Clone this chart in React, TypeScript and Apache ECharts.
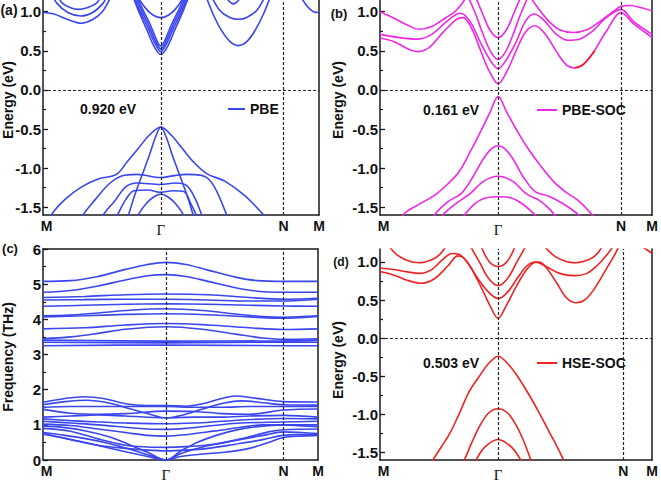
import React, { useEffect, useRef } from "react";
import * as echarts from "echarts";

// k-path positions (percent of path length) for M, Γ, N, M in each panel
const kLabels = ["M", "Γ", "N", "M"];
const kPosA = [0, 42.7, 87.2, 100];
const kPosB = [0, 43.4, 88.6, 100];
const kPosC = [0, 44.7, 87.5, 100];
const kPosD = [0, 43.4, 89.4, 100];

const energyTicks = [-1.5, -1.0, -0.5, 0.0, 0.5, 1.0];
const energyMinor = [-1.25, -0.75, -0.25, 0.25, 0.75];
const freqTicks = [0, 1, 2, 3, 4, 5, 6];
const freqMinor = [0.5, 1.5, 2.5, 3.5, 4.5, 5.5];

const panelLetters = ["(a)", "(b)", "(c)", "(d)"];
const gapLabels = ["0.920 eV", "0.161 eV", "0.503 eV"];
const legendNames = ["PBE", "PBE-SOC", "HSE-SOC"];

// Panel (a) PBE bands: [k %, E (eV)]
const bandsA: number[][][] = [
  [[0, 0.99], [4, 0.97], [9, 0.9], [13.9, 0.853], [18, 0.9], [21.5, 1.0], [24, 1.15], [25, 1.22]],
  [[3.5, 1.22], [5, 1.11], [9, 0.99], [13.7, 0.945], [18, 0.99], [21.8, 1.11], [23, 1.2]],
  [[5.5, 1.2], [7, 1.11], [10, 1.05], [12.7, 1.03], [16, 1.05], [19.4, 1.11], [21, 1.2]],
  [[32, 1.25], [34.5, 1.02], [37.5, 0.78], [40.2, 0.56], [42.7, 0.454], [45.2, 0.56], [47.9, 0.78], [50.9, 1.02], [53.4, 1.25]],
  [[32.5, 1.25], [35, 1.02], [38, 0.8], [40.5, 0.6], [42.7, 0.49], [44.9, 0.6], [47.4, 0.8], [50.4, 1.02], [52.9, 1.25]],
  [[33, 1.25], [35.5, 1.03], [38.4, 0.82], [40.7, 0.63], [42.7, 0.525], [44.7, 0.63], [47, 0.82], [49.9, 1.03], [52.4, 1.25]],
  [[33.5, 1.25], [36, 1.04], [38.8, 0.84], [40.9, 0.66], [42.7, 0.56], [44.5, 0.66], [46.6, 0.84], [49.4, 1.04], [51.9, 1.25]],
  [[34.5, 1.18], [37.5, 1.03], [40, 0.955], [42.7, 0.924], [45.4, 0.955], [47.9, 1.03], [50.9, 1.18]],
  [[58.5, 1.25], [61.5, 0.98], [64.5, 0.77], [67.7, 0.62], [70.8, 0.567], [73.9, 0.62], [77, 0.77], [80, 0.98], [83, 1.25]],
  [[61, 1.2], [64, 1.02], [67.5, 0.93], [70.8, 0.903], [74, 0.93], [77.5, 1.02], [80.5, 1.2]],
  [[66, 1.2], [69, 1.1], [72, 1.2]],
  [[92.5, 1.25], [95.5, 1.08], [98, 1.0], [100, 0.99]],
  [[1, -1.8], [3, -1.6], [8, -1.4], [14, -1.24], [20, -1.14], [26.6, -1.08], [30.5, -0.92], [34.5, -0.75], [38.5, -0.58], [42.7, -0.475], [46.5, -0.58], [50.5, -0.75], [54.5, -0.92], [59.3, -1.07], [66, -1.17], [73, -1.35], [80, -1.6], [82, -1.7]],
  [[29, -1.85], [31, -1.6], [33.5, -1.32], [36, -1.08], [38.5, -0.84], [40.8, -0.6], [42.7, -0.475], [44.6, -0.6], [46.9, -0.84], [49.4, -1.08], [51.9, -1.32], [54.4, -1.6], [56, -1.8]],
  [[12, -1.8], [14.5, -1.6], [19, -1.4], [24, -1.2], [28.5, -1.1], [34, -1.08], [42.7, -1.12], [47, -1.1], [52, -1.08], [57, -1.09], [60, -1.14], [63, -1.3], [66.6, -1.6], [68, -1.7]],
  [[20, -1.75], [21.8, -1.6], [26, -1.42], [30, -1.24], [34, -1.19], [42.7, -1.21], [48, -1.19], [52, -1.22], [55, -1.38], [57.5, -1.6], [59, -1.75]],
  [[25, -1.75], [27, -1.6], [30, -1.4], [33, -1.29], [38, -1.28], [42.7, -1.31], [47, -1.29], [51, -1.3], [53.5, -1.45], [55.5, -1.6], [57, -1.75]],
  [[33, -1.75], [34.5, -1.6], [37.5, -1.45], [40.5, -1.36], [42.7, -1.335], [44.9, -1.36], [47.9, -1.45], [50.9, -1.6], [52.4, -1.75]],
];

// Panel (b) PBE-SOC bands
const bandsB: number[][][] = [
  [[0, 0.71], [7, 0.67], [14, 0.65], [19, 0.71], [24, 0.86], [29.5, 0.98], [33, 0.88], [37, 0.6], [40.5, 0.38], [43.4, 0.27], [46.3, 0.38], [49.8, 0.6], [53.5, 0.88], [56.5, 0.97], [60, 0.9], [64.5, 0.72], [69, 0.635], [73, 0.645], [78, 0.75], [83, 0.92], [88.6, 1.03], [93, 0.88], [100, 0.71]],
  [[0, 1.0], [5, 0.92], [10, 0.83], [14.5, 0.775], [19, 0.81], [24, 0.92], [27.5, 1.0], [30, 1.1], [32, 1.2]],
  [[0, 0.665], [5, 0.62], [10, 0.53], [14, 0.49], [18, 0.54], [23, 0.73], [28, 0.9], [30.5, 0.925], [33.5, 0.8], [37, 0.5], [40, 0.25], [43.4, 0.08], [46.8, 0.25], [50, 0.5], [53.5, 0.74], [57, 0.82], [61, 0.7], [65, 0.48], [68.5, 0.32], [71.5, 0.28], [74.5, 0.32], [78, 0.46], [83, 0.74], [88.6, 0.99], [93, 0.85], [100, 0.67]],
  [[32, 1.22], [35, 0.98], [38, 0.7], [40.8, 0.48], [43.4, 0.39], [46, 0.48], [48.8, 0.7], [51.8, 0.98], [54.8, 1.22]],
  [[35, 1.2], [37.5, 0.99], [40.5, 0.76], [43.4, 0.67], [46.3, 0.76], [49.3, 0.99], [51.8, 1.2]],
  [[55, 1.2], [58, 1.05], [62, 0.88], [66, 0.77], [71, 0.735], [76, 0.77], [81, 0.88], [86, 1.01], [88.6, 1.07], [92, 1.08], [96, 1.05], [100, 1.01]],
  [[7, -1.8], [8.5, -1.6], [14, -1.47], [20, -1.35], [25, -1.2], [29, -1.05], [33, -0.8], [37, -0.53], [40.5, -0.28], [43.4, -0.084], [46.5, -0.28], [50, -0.5], [54, -0.73], [59, -0.97], [64, -1.18], [68, -1.3], [73, -1.42], [78, -1.6], [80, -1.7]],
  [[18, -1.75], [20, -1.6], [25, -1.43], [30, -1.32], [34, -1.12], [38, -0.88], [41, -0.75], [43.4, -0.714], [45.8, -0.75], [48.8, -0.88], [52.8, -1.12], [57, -1.3], [62, -1.36], [67, -1.45], [73, -1.6], [75, -1.7]],
  [[20, -1.75], [23, -1.6], [28, -1.45], [33, -1.33], [38, -1.17], [43.4, -1.105], [48.8, -1.17], [53.8, -1.33], [58.8, -1.42], [63, -1.55], [65, -1.65], [66, -1.75]],
  [[28, -1.75], [31, -1.6], [35, -1.45], [39, -1.38], [43.4, -1.366], [48, -1.38], [52, -1.45], [57, -1.6], [60, -1.75]],
];
// small red-highlighted stretch in panel (b)
const bandBRed: number[][] = [[71.5, 0.28], [74.5, 0.32], [78, 0.46], [79, 0.5]];

// Panel (c) phonon bands: [k %, frequency THz]
const bandsC: number[][][] = [
  [[0, 5.08], [10, 5.1], [20, 5.22], [30, 5.42], [38, 5.56], [44.7, 5.62], [52, 5.56], [60, 5.4], [70, 5.2], [78, 5.1], [87.5, 5.08], [100, 5.08]],
  [[0, 4.77], [10, 4.82], [20, 4.95], [30, 5.12], [38, 5.24], [44.7, 5.27], [52, 5.22], [60, 5.08], [70, 4.9], [78, 4.8], [87.5, 4.77], [100, 4.77]],
  [[0, 4.62], [15, 4.65], [30, 4.7], [44.7, 4.72], [60, 4.7], [75, 4.62], [87.5, 4.57], [100, 4.6]],
  [[0, 4.55], [15, 4.56], [30, 4.57], [44.7, 4.57], [60, 4.55], [75, 4.52], [87.5, 4.52], [100, 4.57]],
  [[0, 4.37], [15, 4.4], [30, 4.43], [44.7, 4.44], [60, 4.43], [75, 4.4], [87.5, 4.38], [100, 4.37]],
  [[0, 4.1], [10, 4.12], [20, 4.18], [30, 4.25], [44.7, 4.3], [58, 4.25], [70, 4.15], [80, 4.08], [87.5, 4.06], [100, 4.1]],
  [[0, 4.07], [15, 4.1], [30, 4.14], [44.7, 4.16], [60, 4.13], [75, 4.07], [87.5, 4.03], [100, 4.08]],
  [[0, 3.73], [15, 3.76], [30, 3.84], [44.7, 3.88], [60, 3.84], [75, 3.76], [87.5, 3.71], [100, 3.73]],
  [[0, 3.45], [10, 3.5], [20, 3.6], [30, 3.72], [44.7, 3.79], [58, 3.72], [70, 3.58], [80, 3.47], [87.5, 3.43], [100, 3.45]],
  [[0, 3.41], [44.7, 3.38], [87.5, 3.39], [100, 3.41]],
  [[0, 3.35], [44.7, 3.33], [87.5, 3.36], [100, 3.35]],
  [[0, 3.25], [44.7, 3.27], [87.5, 3.25], [100, 3.25]],
  [[0, 1.64], [8, 1.75], [15, 1.8], [22, 1.75], [30, 1.6], [37, 1.55], [44.7, 1.55], [52, 1.53], [58, 1.6], [65, 1.75], [70, 1.82], [77, 1.76], [87.5, 1.66], [100, 1.65]],
  [[0, 1.57], [8, 1.66], [16, 1.7], [24, 1.62], [32, 1.45], [38, 1.32], [44.7, 1.2], [51, 1.28], [58, 1.45], [66, 1.62], [72, 1.68], [80, 1.63], [87.5, 1.57], [100, 1.56]],
  [[0, 1.5], [10, 1.52], [20, 1.52], [30, 1.52], [44.7, 1.52], [55, 1.5], [65, 1.5], [75, 1.52], [87.5, 1.52], [100, 1.52]],
  [[0, 1.44], [10, 1.33], [20, 1.3], [30, 1.32], [44.7, 1.39], [55, 1.38], [65, 1.32], [75, 1.3], [87.5, 1.42], [100, 1.45]],
  [[0, 1.22], [10, 1.25], [20, 1.28], [30, 1.25], [44.7, 1.2], [55, 1.22], [65, 1.22], [75, 1.25], [87.5, 1.27], [100, 1.22]],
  [[0, 1.17], [10, 1.12], [20, 1.08], [30, 1.05], [44.7, 1.03], [55, 1.05], [65, 1.1], [75, 1.15], [87.5, 1.18], [100, 1.17]],
  [[0, 1.1], [10, 1.05], [20, 1.0], [30, 0.93], [38, 0.88], [44.7, 0.87], [52, 0.9], [62, 0.98], [72, 1.05], [87.5, 1.08], [100, 1.1]],
  [[0, 1.02], [10, 0.98], [20, 0.88], [30, 0.78], [38, 0.7], [44.7, 0.68], [52, 0.72], [62, 0.82], [72, 0.93], [80, 1.0], [87.5, 1.0], [100, 1.0]],
  [[0, 0.9], [10, 0.82], [20, 0.6], [30, 0.42], [38, 0.37], [44.7, 0.36], [52, 0.38], [62, 0.45], [72, 0.6], [82, 0.8], [87.5, 0.86], [100, 0.88]],
  [[0, 0.75], [10, 0.58], [20, 0.42], [30, 0.33], [38, 0.28], [44.7, 0.26], [52, 0.28], [60, 0.33], [70, 0.45], [80, 0.58], [87.5, 0.7], [100, 0.73]],
  [[0, 0.97], [8, 0.92], [16, 0.82], [24, 0.66], [31, 0.45], [38, 0.22], [44.7, 0], [50, 0.25], [56, 0.5], [63, 0.7], [70, 0.85], [78, 0.95], [87.5, 1.0], [94, 0.97], [100, 0.95]],
  [[0, 0.78], [8, 0.7], [16, 0.6], [24, 0.47], [32, 0.3], [38, 0.15], [44.7, 0], [50, 0.18], [57, 0.35], [65, 0.48], [73, 0.6], [80, 0.7], [87.5, 0.8], [94, 0.78], [100, 0.75]],
  [[0, 0.73], [8, 0.62], [16, 0.48], [24, 0.34], [32, 0.2], [38, 0.1], [44.7, 0], [50, 0.1], [58, 0.17], [66, 0.22], [75, 0.33], [82, 0.5], [87.5, 0.64], [94, 0.68], [100, 0.7]],
];

// Panel (d) HSE-SOC bands
const bandsD: number[][][] = [
  [[0, 0.875], [5, 0.83], [10, 0.76], [15, 0.72], [20, 0.78], [25, 0.95], [28.6, 1.08], [30.5, 1.06], [33, 0.95], [37, 0.68], [40.5, 0.42], [43.4, 0.26], [46.3, 0.42], [49.8, 0.66], [53.5, 0.88], [56.5, 0.99], [58.5, 1.0], [61, 0.93], [65, 0.72], [68.5, 0.53], [72, 0.465], [75.5, 0.51], [79, 0.66], [83, 0.9], [86, 1.08], [88, 1.22]],
  [[0, 0.92], [5, 0.9], [10, 0.87], [14.5, 0.85], [19, 0.9], [23, 1.03], [26.5, 1.11], [29, 1.1], [32, 1.0], [36, 0.78], [40, 0.6], [43.4, 0.52], [46.8, 0.6], [50.5, 0.79], [54, 0.95], [57, 1.0], [61, 0.94], [66, 0.85], [71.5, 0.82], [76, 0.85], [80, 0.96], [83.5, 1.1], [86, 1.22]],
  [[3, 1.22], [6, 1.1], [10, 1.02], [14.5, 0.99], [19, 1.03], [22, 1.1], [24.5, 1.22]],
  [[33, 1.22], [36.5, 1.0], [40, 0.78], [43.4, 0.69], [46.8, 0.78], [50.3, 1.0], [53.8, 1.22]],
  [[37, 1.22], [40, 1.01], [43.4, 0.94], [46.8, 1.01], [49.8, 1.22]],
  [[60, 1.22], [64, 1.08], [68, 1.01], [71.5, 0.99], [75, 1.01], [79, 1.08], [82, 1.22]],
  [[95.5, 1.22], [98, 1.16], [100, 1.11]],
  [[17, -1.8], [19.5, -1.6], [25.5, -1.26], [29, -1.0], [32.8, -0.7], [36.5, -0.5], [40, -0.33], [43.4, -0.237], [46.8, -0.33], [50.5, -0.5], [54.7, -0.74], [58.5, -0.98], [62, -1.22], [65, -1.42], [67.5, -1.6], [69, -1.7]],
  [[29, -1.75], [31, -1.6], [34, -1.35], [37, -1.13], [40, -0.98], [43.4, -0.927], [46.8, -0.98], [49.8, -1.13], [52.8, -1.35], [55.4, -1.6], [57, -1.75]],
  [[33.5, -1.75], [35.3, -1.6], [38.5, -1.43], [43.4, -1.33], [48.3, -1.43], [51.7, -1.6], [53.5, -1.75]],
];

const BLUE = "#3a46ee";
const MAGENTA = "#f026e8";
const RED = "#f02222";
const AXIS = "#1a1a1a";
const SANS = "'Liberation Sans', Arial, Helvetica, sans-serif";
const SERIF = "'Liberation Serif', 'Times New Roman', serif";

export default function App() {
  const ref = useRef<HTMLDivElement>(null);

  useEffect(() => {
    if (!ref.current) return;
    const chart = echarts.init(ref.current, undefined, { renderer: "svg" });

    const grids = [
      { left: 43, right: 342, top: -3, bottom: 267 },
      { left: 380, right: 7, top: -3, bottom: 267 },
      { left: 43, right: 343, top: 249, bottom: 19 },
      { left: 380, right: 7, top: 249, bottom: 19 },
    ];
    const kPos = [kPosA, kPosB, kPosC, kPosD];
    const yRange = [
      [-1.6, 1.15],
      [-1.6, 1.15],
      [0, 6],
      [-1.6, 1.17],
    ];
    const isEnergy = [true, true, false, true];

    const axisLineStyle = { color: AXIS, width: 1.5 };

    const xAxis: any[] = grids.map((_, i) => ({
      type: "value",
      gridIndex: i,
      min: 0,
      max: 100,
      position: "bottom",
      axisLine: { show: true, onZero: false, lineStyle: axisLineStyle },
      axisTick: { show: false },
      splitLine: { show: false },
      axisLabel: {
        customValues: kPos[i],
        margin: 4,
        fontSize: 14,
        fontWeight: "bold",
        fontFamily: SANS,
        color: "#111",
        formatter: (v: number) => {
          let idx = 0;
          let best = 1e9;
          kPos[i].forEach((p, j) => {
            if (Math.abs(p - v) < best) {
              best = Math.abs(p - v);
              idx = j;
            }
          });
          const t = kLabels[idx];
          if (idx === 0) return "{m|" + t + "}";
          return t === "Γ" ? "{g|Γ}" : t;
        },
        rich: {
          g: { fontFamily: SERIF, fontSize: 15, fontWeight: "normal", color: "#111", padding: [3, 0, 0, 0] },
          m: { fontFamily: SANS, fontSize: 14, fontWeight: "bold", color: "#111", padding: [0, 0, 0, 7] },
        },
      },
    }));
    // top border for panel (c)
    xAxis.push({
      type: "value",
      gridIndex: 2,
      min: 0,
      max: 100,
      position: "top",
      axisLine: { show: true, onZero: false, lineStyle: axisLineStyle },
      axisTick: { show: false },
      axisLabel: { show: false },
      splitLine: { show: false },
    });

    const yAxis: any[] = [];
    grids.forEach((_, i) => {
      yAxis.push({
        type: "value",
        gridIndex: i,
        min: yRange[i][0],
        max: yRange[i][1],
        position: "left",
        axisLine: { show: true, onZero: false, lineStyle: axisLineStyle },
        axisTick: {
          show: true,
          inside: true,
          length: 5,
          customValues: isEnergy[i] ? energyTicks : freqTicks,
          lineStyle: { color: AXIS, width: 1.3 },
        },
        axisLabel: {
          customValues: isEnergy[i] ? energyTicks : freqTicks,
          margin: 2,
          fontSize: 15,
          fontWeight: "bold",
          fontFamily: SANS,
          color: "#111",
          formatter: (v: number) => (isEnergy[i] ? v.toFixed(1) : String(Math.round(v))),
        },
        splitLine: { show: false },
      });
    });
    grids.forEach((_, i) => {
      yAxis.push({
        type: "value",
        gridIndex: i,
        min: yRange[i][0],
        max: yRange[i][1],
        position: "left",
        axisLine: { show: false, onZero: false },
        axisTick: {
          show: true,
          inside: true,
          length: 3,
          customValues: isEnergy[i] ? energyMinor : freqMinor,
          lineStyle: { color: AXIS, width: 1.2 },
        },
        axisLabel: { show: false },
        splitLine: { show: false },
      });
    });
    grids.forEach((_, i) => {
      yAxis.push({
        type: "value",
        gridIndex: i,
        min: yRange[i][0],
        max: yRange[i][1],
        position: "right",
        axisLine: { show: true, onZero: false, lineStyle: axisLineStyle },
        axisTick: { show: false },
        axisLabel: { show: false },
        splitLine: { show: false },
      });
    });

    const dash = { type: [3, 2] as any, color: "#222", width: 1.2 };
    const makeMarks = (i: number) => ({
      silent: true,
      symbol: ["none", "none"],
      label: { show: false },
      lineStyle: dash,
      data: [
        { xAxis: kPos[i][1] },
        { xAxis: kPos[i][2] },
        ...(isEnergy[i] ? [{ yAxis: 0 }] : []),
      ],
    });

    const panels = [
      { bands: bandsA, color: BLUE, name: "PBE" },
      { bands: bandsB, color: MAGENTA, name: "PBE-SOC" },
      { bands: bandsC, color: BLUE, name: "phonon" },
      { bands: bandsD, color: RED, name: "HSE-SOC" },
    ];

    const series: any[] = [];
    panels.forEach((p, i) => {
      p.bands.forEach((band, j) => {
        series.push({
          type: "line",
          name: j === 0 ? p.name : `${p.name}-${j}`,
          xAxisIndex: i,
          yAxisIndex: i,
          data: band,
          symbol: "none",
          showSymbol: false,
          smooth: 0.35,
          lineStyle: { color: p.color, width: 1.6 },
          itemStyle: { color: p.color },
          silent: true,
          z: 3,
          ...(j === 0 ? { markLine: makeMarks(i) } : {}),
        });
      });
    });
    series.push({
      type: "line",
      name: "b-red",
      xAxisIndex: 1,
      yAxisIndex: 1,
      data: bandBRed,
      symbol: "none",
      smooth: 0.35,
      lineStyle: { color: "#ff1a1a", width: 1.6 },
      silent: true,
      z: 4,
    });

    const legendBase = {
      orient: "horizontal",
      padding: 0,
      itemGap: 0,
      itemHeight: 2,
      icon: "rect",
      selectedMode: false,
      textStyle: { fontSize: 14, fontWeight: "bold", fontFamily: SANS, color: "#111" },
    };
    const legend = [
      { ...legendBase, data: [legendNames[0]], left: 228, top: 102, itemWidth: 17, itemStyle: { color: BLUE } },
      { ...legendBase, data: [legendNames[1]], left: 537, top: 103, itemWidth: 20, itemStyle: { color: MAGENTA } },
      { ...legendBase, data: [legendNames[2]], left: 537, top: 356, itemWidth: 20, itemStyle: { color: RED } },
    ];

    const txt = (text: string, x: number, y: number, size: number, extra: any = {}) => ({
      type: "text",
      x,
      y,
      silent: true,
      ...extra,
      style: {
        text,
        fill: "#111",
        fontSize: size,
        fontWeight: "bold",
        fontFamily: SANS,
        textAlign: "center",
        textVerticalAlign: "middle",
      },
    });

    const graphic = [
      txt(panelLetters[0], 9, 10, 14),
      txt(panelLetters[1], 339, 13, 13),
      txt(panelLetters[2], 10, 248, 13),
      txt(panelLetters[3], 341, 262, 12),
      txt("Energy (eV)", 8, 100, 14, { rotation: Math.PI / 2 }),
      txt("Energy (eV)", 338, 100, 14, { rotation: Math.PI / 2 }),
      txt("Frequency (THz)", 8, 357, 14, { rotation: Math.PI / 2 }),
      txt("Energy (eV)", 338, 360, 14, { rotation: Math.PI / 2 }),
      txt(gapLabels[0], 108, 109, 14),
      txt(gapLabels[1], 451, 110, 14),
      txt(gapLabels[2], 451, 363, 14),
    ];

    chart.setOption({
      animation: false,
      backgroundColor: "#ffffff",
      grid: grids,
      xAxis,
      yAxis,
      legend,
      graphic,
      series,
    });

    return () => chart.dispose();
  }, []);

  return (
    <div
      ref={ref}
      style={{ position: "absolute", left: 0, top: 0, width: 661, height: 482 }}
    />
  );
}
